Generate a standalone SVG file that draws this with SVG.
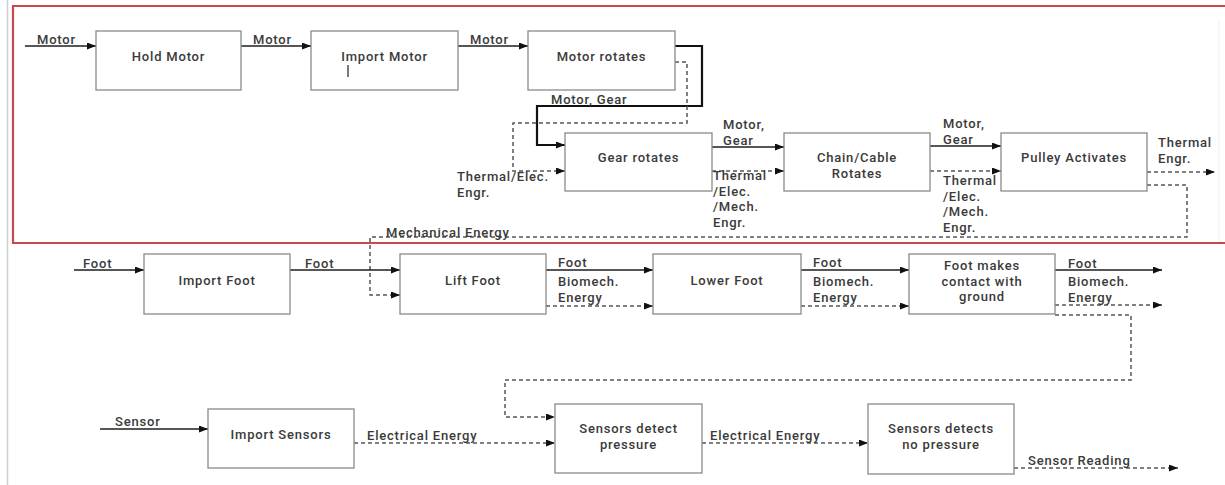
<svg xmlns="http://www.w3.org/2000/svg" width="1225" height="485" viewBox="0 0 1225 485">
<style>
  .node rect { fill: #ffffff; stroke: #8a8a8a; stroke-width: 1.3; }
  .nt { font-family: Roboto, "Liberation Sans", sans-serif; font-size: 13px; letter-spacing: 0.8px; font-weight: 500; fill: #3a3a3a; text-anchor: middle; }
  .lbl { font-family: Roboto, "Liberation Sans", sans-serif; font-size: 13px; letter-spacing: 0.8px; font-weight: 500; fill: #3a3a3a; }
  .solid { fill: none; stroke: #1e1e1e; stroke-width: 1.6; marker-end: url(#arr); }
  .thick { fill: none; stroke: #111; stroke-width: 2.2; marker-end: url(#arr); }
  .dash { fill: none; stroke: #555; stroke-width: 1.5; stroke-dasharray: 4 3; marker-end: url(#arr); }
</style>
<defs>
  <marker id="arr" markerUnits="userSpaceOnUse" markerWidth="9" markerHeight="7" refX="9" refY="3.5" orient="auto">
    <path d="M0,0 L9,3.5 L0,7 z" fill="#111"/>
  </marker>
</defs>
<rect width="1225" height="485" fill="#ffffff"/>
<line x1="7.5" y1="0" x2="7.5" y2="485" stroke="#cfcfcf" stroke-width="1.5"/>
<line x1="1219" y1="20" x2="1219" y2="242" stroke="#f0f0f0" stroke-width="1"/>
<path d="M1230,6 L13,6 L13,243 L1230,243" fill="none" stroke="#c9474f" stroke-width="2.2"/>

<g id="connectors">
  <path class="solid" d="M25,46 H96"/>
  <path class="solid" d="M241,46 H311"/>
  <path class="solid" d="M458,46 H528"/>
  <path class="thick" d="M675,46 H702 V106 H537 V145 H565"/>
  <path class="dash" d="M675,62 H687 V123 H513 V171 H565"/>
  <path class="solid" d="M712,147 H784"/>
  <path class="dash" d="M712,171 H784"/>
  <path class="solid" d="M930,146 H1001"/>
  <path class="dash" d="M930,171 H1001"/>
  <path class="dash" d="M1147,172 H1215"/>
  <path class="dash" d="M1147,185 H1187 V237 H370 V295 H400"/>
  <path class="solid" d="M74,270 H144"/>
  <path class="solid" d="M290,270 H400"/>
  <path class="solid" d="M546,270 H653"/>
  <path class="dash" d="M546,306 H653"/>
  <path class="solid" d="M801,270 H909"/>
  <path class="dash" d="M801,306 H909"/>
  <path class="solid" d="M1055,270 H1162"/>
  <path class="dash" d="M1055,305 H1162"/>
  <path class="dash" d="M1055,315 H1131 V380 H505 V417 H555"/>
  <path class="solid" d="M100,429 H208"/>
  <path class="dash" d="M354,443 H555"/>
  <path class="dash" d="M702,443 H868"/>
  <path class="dash" d="M1014,468 H1178"/>

  <text class="lbl" x="37" y="44">Motor</text>
  <text class="lbl" x="253" y="44">Motor</text>
  <text class="lbl" x="470" y="44">Motor</text>
  <text class="lbl" x="551" y="104">Motor, Gear</text>
  <text class="lbl" x="457" y="181">Thermal/Elec.<tspan x="457" dy="15.5">Engr.</tspan></text>
  <text class="lbl" x="723" y="129">Motor,<tspan x="723" dy="15.5">Gear</tspan></text>
  <text class="lbl" x="713" y="180">Thermal<tspan x="713" dy="15.5">/Elec.</tspan><tspan x="713" dy="15.5">/Mech.</tspan><tspan x="713" dy="15.5">Engr.</tspan></text>
  <text class="lbl" x="943" y="128">Motor,<tspan x="943" dy="15.5">Gear</tspan></text>
  <text class="lbl" x="943" y="185">Thermal<tspan x="943" dy="15.5">/Elec.</tspan><tspan x="943" dy="15.5">/Mech.</tspan><tspan x="943" dy="15.5">Engr.</tspan></text>
  <text class="lbl" x="1158" y="147">Thermal<tspan x="1158" dy="15.5">Engr.</tspan></text>
  <text class="lbl" x="386" y="237">Mechanical Energy</text>
  <text class="lbl" x="83" y="268">Foot</text>
  <text class="lbl" x="305" y="268">Foot</text>
  <text class="lbl" x="558" y="267">Foot</text>
  <text class="lbl" x="558" y="286">Biomech.<tspan x="558" dy="15.5">Energy</tspan></text>
  <text class="lbl" x="813" y="267">Foot</text>
  <text class="lbl" x="813" y="286">Biomech.<tspan x="813" dy="15.5">Energy</tspan></text>
  <text class="lbl" x="1068" y="268">Foot</text>
  <text class="lbl" x="1068" y="286">Biomech.<tspan x="1068" dy="15.5">Energy</tspan></text>
  <text class="lbl" x="115" y="426">Sensor</text>
  <text class="lbl" x="367" y="440">Electrical Energy</text>
  <text class="lbl" x="710" y="440">Electrical Energy</text>
  <text class="lbl" x="1028" y="465">Sensor Reading</text>
</g>

<g id="hold-motor" class="node"><rect x="96" y="31" width="145" height="59"/><text class="nt" x="168.5" y="61">Hold Motor</text></g>
<g id="import-motor" class="node"><rect x="311" y="31" width="147" height="59"/><text class="nt" x="384.5" y="61">Import Motor</text><line x1="348" y1="65" x2="348" y2="77" stroke="#222" stroke-width="1.2"/></g>
<g id="motor-rotates" class="node"><rect x="528" y="31" width="147" height="59"/><text class="nt" x="601.5" y="61">Motor rotates</text></g>
<g id="gear-rotates" class="node"><rect x="565" y="133" width="147" height="58"/><text class="nt" x="638.5" y="162">Gear rotates</text></g>
<g id="chain-cable-rotates" class="node"><rect x="784" y="133" width="146" height="58"/><text class="nt" x="857" y="162">Chain/Cable<tspan x="857" dy="15.5">Rotates</tspan></text></g>
<g id="pulley-activates" class="node"><rect x="1001" y="133" width="146" height="58"/><text class="nt" x="1074" y="162">Pulley Activates</text></g>
<g id="import-foot" class="node"><rect x="144" y="254" width="146" height="60"/><text class="nt" x="217" y="285">Import Foot</text></g>
<g id="lift-foot" class="node"><rect x="400" y="254" width="146" height="60"/><text class="nt" x="473" y="285">Lift Foot</text></g>
<g id="lower-foot" class="node"><rect x="653" y="254" width="148" height="60"/><text class="nt" x="727" y="285">Lower Foot</text></g>
<g id="foot-contact" class="node"><rect x="909" y="254" width="146" height="60"/><text class="nt" x="982" y="270">Foot makes<tspan x="982" dy="15.5">contact with</tspan><tspan x="982" dy="15.5">ground</tspan></text></g>
<g id="import-sensors" class="node"><rect x="208" y="409" width="146" height="59"/><text class="nt" x="281" y="439">Import Sensors</text></g>
<g id="sensors-detect-pressure" class="node"><rect x="555" y="404" width="147" height="69"/><text class="nt" x="628.5" y="433">Sensors detect<tspan x="628.5" dy="16">pressure</tspan></text></g>
<g id="sensors-detect-no-pressure" class="node"><rect x="868" y="404" width="146" height="70"/><text class="nt" x="941" y="433">Sensors detects<tspan x="941" dy="15.5">no pressure</tspan></text></g>
</svg>
